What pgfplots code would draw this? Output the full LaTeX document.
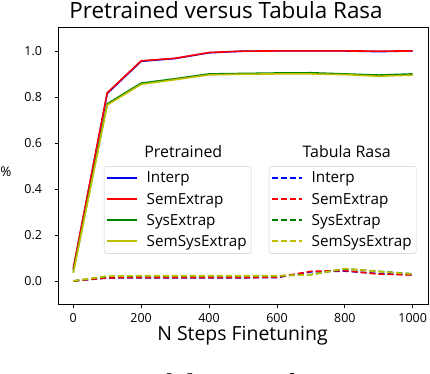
\documentclass[border=0pt]{standalone}
\usepackage{fontspec}
\setmainfont{Open Sans}
\newfontfamily\capfont{Liberation Serif}
\usepackage{pgfplots}
\usepackage{pgfplotstable}
\pgfplotsset{compat=1.18}
\definecolor{cblue}{rgb}{0,0,1}
\definecolor{cred}{rgb}{1,0,0}
\definecolor{cgreen}{rgb}{0,0.5,0}
\definecolor{cyell}{rgb}{0.75,0.75,0}
\definecolor{legframe}{HTML}{CCCCCC}

\pgfplotstableread{
x    interp sem   sys   semsys
0    0.050  0.055 0.040 0.035
100  0.815  0.818 0.770 0.765
200  0.955  0.957 0.860 0.855
300  0.967  0.968 0.879 0.875
400  0.992  0.993 0.900 0.896
500  0.999  0.999 0.902 0.899
600  1.000  1.000 0.904 0.900
700  1.000  1.000 0.905 0.900
800  1.000  1.000 0.900 0.897
900  0.997  0.999 0.895 0.890
1000 1.000  1.000 0.900 0.895
}\pretrained

\pgfplotstableread{
x    interp sem   sys   semsys
0    0.000  0.000 0.000 0.000
100  0.013  0.014 0.020 0.021
200  0.014  0.015 0.022 0.023
300  0.014  0.015 0.022 0.023
400  0.014  0.015 0.022 0.023
500  0.014  0.015 0.022 0.023
600  0.015  0.016 0.022 0.023
700  0.040  0.042 0.028 0.027
800  0.043  0.045 0.053 0.054
900  0.032  0.030 0.042 0.041
1000 0.027  0.026 0.031 0.030
}\tabula

\pgfplotsset{
  base/.style={
    scale only axis, width=370bp, height=277bp,
    xmin=-45, xmax=1045, ymin=-0.1, ymax=1.104,
    legend image code/.code={\draw[##1,line width=2.1bp] (0bp,0bp) -- (30bp,0bp);},
    legend cell align=left,
    legend style={draw=legframe, rounded corners=2.5bp, fill=white,
      font=\fontsize{15.3}{18}\selectfont, anchor=south west, inner xsep=2bp, inner ysep=3.3bp,
      row sep=3.5bp, column sep=6bp, nodes={inner sep=2.5bp}},
  },
  pre/.style={line width=1.6bp},
  tr/.style={line width=1.6bp, dash pattern=on 6bp off 3bp},
}

\begin{document}
\begin{tikzpicture}
\begin{axis}[base,
  axis line style={black, line width=0.8bp},
  tick align=outside, xtick pos=bottom, ytick pos=left,
  major tick length=3.5bp, tick style={black, line width=0.8bp},
  xtick={0,200,400,600,800,1000},
  ytick={0,0.2,0.4,0.6,0.8,1.0},
  tick label style={font=\fontsize{12.5}{14}\selectfont},
  /pgf/number format/assume math mode=true,
  xticklabel style={yshift=-2bp, /pgf/number format/1000 sep={}},
  yticklabel style={xshift=-9bp, /pgf/number format/.cd, fixed, fixed zerofill, precision=1},
  legend style={at={(0.124,0.182)}},
]
\addplot[pre, draw=cblue] table[x=x,y=interp] {\pretrained};
\addplot[pre, draw=cred] table[x=x,y=sem] {\pretrained};
\addplot[pre, draw=cgreen] table[x=x,y=sys] {\pretrained};
\addplot[pre, draw=cyell] table[x=x,y=semsys] {\pretrained};
\legend{Interp,SemExtrap,SysExtrap,SemSysExtrap}
\end{axis}
\begin{axis}[base, hide axis,
  legend style={at={(0.570,0.182)}},
]
\addplot[tr, draw=cblue] table[x=x,y=interp] {\tabula};
\addplot[tr, draw=cred] table[x=x,y=sem] {\tabula};
\addplot[tr, draw=cgreen] table[x=x,y=sys] {\tabula};
\addplot[tr, draw=cyell] table[x=x,y=semsys] {\tabula};
\legend{Interp,SemExtrap,SysExtrap,SemSysExtrap}
\end{axis}
\node[anchor=base, font=\fontsize{22.5}{26}\selectfont] at (168bp,285bp) {Pretrained versus Tabula Rasa};
\node[anchor=base, font=\fontsize{19.5}{22}\selectfont] at (184.5bp,-36.7bp) {N Steps Finetuning};
\node[anchor=center, font=\fontsize{13.5}{16}\selectfont] at (-52bp,132bp) {\%};
\node[anchor=base, font=\fontsize{16}{19}\selectfont] at (125.3bp,146.7bp) {Pretrained};
\node[anchor=base, font=\fontsize{16}{19}\selectfont] at (288.7bp,146.7bp) {Tabula Rasa};
\begin{scope}[every node/.style={anchor=base west, inner sep=0pt, font=\capfont\fontsize{30}{33}\selectfont}]
\node at (-58bp,-90bp) {Figure};
\node at (25bp,-90bp) {1:};
\node at (59bp,-90bp) {Model};
\node at (188bp,-90bp) {performance};
\node at (352bp,-90bp) {4};
\end{scope}
\pgfresetboundingbox
\useasboundingbox (-58bp,-70bp) rectangle (372bp,304bp);
\end{tikzpicture}
\end{document}
